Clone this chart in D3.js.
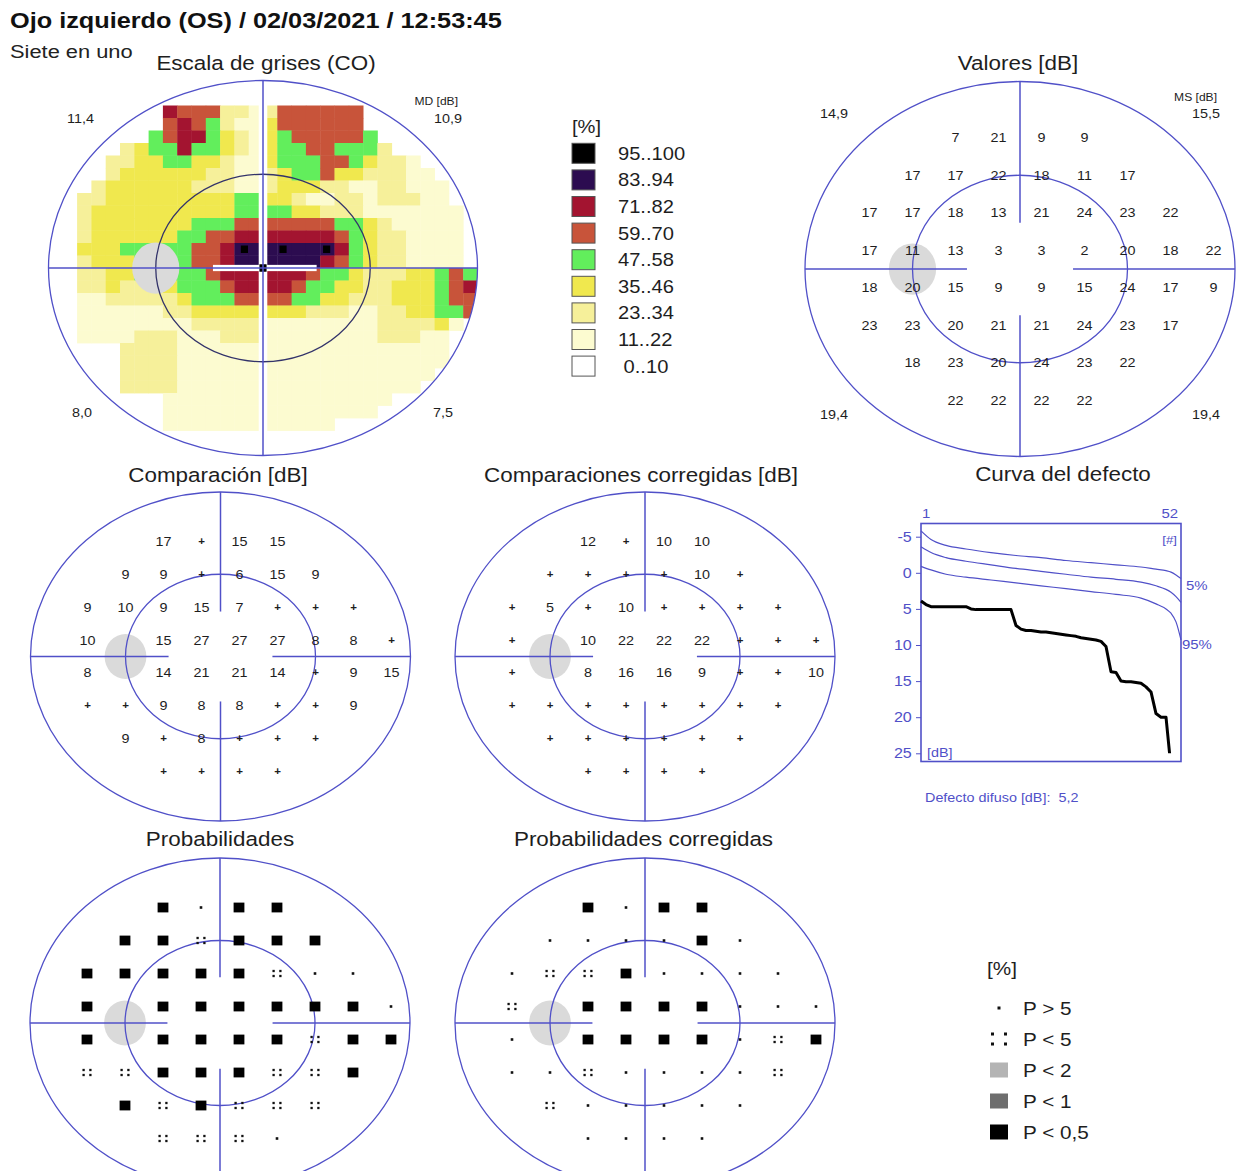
<!DOCTYPE html>
<html>
<head>
<meta charset="utf-8">
<title>Siete en uno</title>
<script src="https://cdn.jsdelivr.net/npm/d3@7"></script>
<style>
  body { margin: 0; background: #fff; }
  svg { display: block; font-family: "Liberation Sans", Arial, sans-serif; }
</style>
</head>
<body>
<script>
// test grid, degrees (left eye, 9 columns x 8 rows)
const xDeg = [-21, -15, -9, -3, 3, 9, 15, 21, 27];
const yDeg = [21, 15, 9, 3, -3, -9, -15, -21];
const _ = null;

const valores = [
  [_, _, 7, 21, 9, 9, _, _, _],
  [_, 17, 17, 22, 18, 11, 17, _, _],
  [17, 17, 18, 13, 21, 24, 23, 22, _],
  [17, 11, 13, 3, 3, 2, 20, 18, 22],
  [18, 20, 15, 9, 9, 15, 24, 17, 9],
  [23, 23, 20, 21, 21, 24, 23, 17, _],
  [_, 18, 23, 20, 24, 23, 22, _, _],
  [_, _, 22, 22, 22, 22, _, _, _]
];

const comparacion = [
  [_, _, 17, '+', 15, 15, _, _, _],
  [_, 9, 9, '+', 6, 15, 9, _, _],
  [9, 10, 9, 15, 7, '+', '+', '+', _],
  [10, _, 15, 27, 27, 27, 8, 8, '+'],
  [8, _, 14, 21, 21, 14, '+', 9, 15],
  ['+', '+', 9, 8, 8, '+', '+', 9, _],
  [_, 9, '+', 8, '+', '+', '+', _, _],
  [_, _, '+', '+', '+', '+', _, _, _]
];

const corregidas = [
  [_, _, 12, '+', 10, 10, _, _, _],
  [_, '+', '+', '+', '+', 10, '+', _, _],
  ['+', 5, '+', 10, '+', '+', '+', '+', _],
  ['+', _, 10, 22, 22, 22, '+', '+', '+'],
  ['+', _, 8, 16, 16, 9, '+', '+', 10],
  ['+', '+', '+', '+', '+', '+', '+', '+', _],
  [_, '+', '+', '+', '+', '+', '+', _, _],
  [_, _, '+', '+', '+', '+', _, _, _]
];

// . P>5   : P<5   g P<2   d P<1   b P<0,5
const probabilidades = [
  '  b.bb   ',
  ' bb:bbb  ',
  'bbbbb:.. ',
  'b bbbbbb.',
  'b bbbb:bb',
  '::bbb::b ',
  ' b:b:::  ',
  '  :::.   '
];
const probCorregidas = [
  '  b.bb   ',
  ' ....b.  ',
  '.::b.... ',
  ': bbbb...',
  '. bbbb.:b',
  '..:....: ',
  ' :.....  ',
  '  ....   '
];

// grey scale map, 2 degree cells from (-30,30), level 0..8
const grayMap = [
  '000000000000000000000000000000',
  '000000000000000000000000000000',
  '000000006555221255555500000000',
  '000000005654211355555500000000',
  '000000045664321345555540000000',
  '000002344644321344554442000000',
  '000022334433211344455432210000',
  '000023333332211234453322211000',
  '000233333322211233322112211100',
  '002233333333344332112212221100',
  '002333333333344443322211111110',
  '002333333344455555554432111110',
  '002333333445566666665432211110',
  '003334444455677777776432211110',
  '002333444455677777765432211110',
  '002233444445666666544322233454',
  '002232223444566665443322333456',
  '001122222344455554433222333455',
  '001111112233333333222112233445',
  '001111111122222111111112222310',
  '001111222111222111111112221100',
  '000002222111111111111111111100',
  '000002222111111111111111111100',
  '000002222111111111111111111000',
  '000002222111111111111111110000',
  '000000001111111111111111000000',
  '000000001111111111111110000000',
  '000000001111111111110000000000',
  '000000000000000000000000000000',
  '000000000000000000000000000000'
];
const blackSpots = [[-2.6, 3], [2.8, 3], [8.9, 3], [0, 0]];

const grayColors = ['#ffffff', '#fcfbd0', '#f6f09a', '#f0e84e', '#62ee5c',
                    '#c8543a', '#a31430', '#2c0c50', '#000000'];
const grayLevels = [8, 7, 6, 5, 4, 3, 2, 1, 0];
const grayLabels = ['95..100', '83..94', '71..82', '59..70', '47..58',
                    '35..46', '23..34', '11..22', '\u20080..10'];

const mdCorners = ['11,4', '10,9', '8,0', '7,5'];
const msCorners = ['14,9', '15,5', '19,4', '19,4'];

// defect curve (Bebie), ranks 1..52
const defecto = [3.9, 4.4, 4.7, 4.7, 4.7, 4.7, 4.7, 4.7, 4.7, 4.7,
                 5.0, 5.1, 5.1, 5.1, 5.1, 5.1, 5.1, 5.1, 5.1,
                 7.3, 7.8, 8.0, 8.0, 8.1, 8.2, 8.2, 8.3, 8.4, 8.5, 8.6,
                 8.7, 8.8, 9.0, 9.1, 9.2, 9.3, 9.5,
                 10.2, 13.7, 13.8, 15.0, 15.1, 15.1, 15.2, 15.3, 15.8,
                 16.5, 19.5, 20.0, 20.0, 27, 27];
const refRanks = [1, 3, 6, 10, 15, 20, 25, 30, 35, 40, 45, 48, 50, 51, 52, 53];
const refTop = [-5.8, -4.6, -3.8, -3.3, -2.8, -2.4, -2.1, -1.7, -1.4, -1.1, -0.8, -0.5, -0.3, -0.1, 0.3, 0.8];
const ref5 = [-3.6, -2.8, -2.1, -1.6, -1.1, -0.6, -0.2, 0.2, 0.6, 0.9, 1.3, 1.8, 2.3, 2.7, 3.3, 4.1];
const ref95 = [-0.9, -0.4, 0.2, 0.6, 1.0, 1.4, 1.8, 2.2, 2.6, 3.0, 3.5, 4.3, 5.0, 5.6, 6.8, 9.3];
const dbTicks = [-5, 0, 5, 10, 15, 20, 25];

const probCodes = ['.', ':', 'g', 'd', 'b'];
const probLabels = ['P > 5', 'P < 5', 'P < 2', 'P < 1', 'P < 0,5'];

const SX = 1.15;            // the printout is stretched horizontally
const blue = '#5050c8';
const ink = '#1e1e1e';

const svg = d3.select('body').append('svg')
    .attr('width', 1240)
    .attr('height', 1171);

function txt(g, x, y, s, size, opt = {}) {
  return g.append('text')
      .attr('transform', `translate(${x},${y}) scale(${SX},1)`)
      .attr('text-anchor', opt.anchor || 'start')
      .attr('font-size', size)
      .attr('font-weight', opt.weight || 'normal')
      .attr('fill', opt.fill || ink)
      .style('white-space', 'pre')
      .text(s);
}

function field(cx, cy, rx, ry) {
  return {
    cx, cy, rx, ry,
    x: d3.scaleLinear().domain([-30, 30]).range([cx - rx, cx + rx]),
    y: d3.scaleLinear().domain([-30, 30]).range([cy + ry, cy - ry])
  };
}

const fGris = field(263, 268, 214.5, 187.5);
const fVal = field(1020, 269, 215, 187.5);
const fComp = field(220.5, 656.5, 190, 164.5);
const fCorr = field(645, 656.5, 190, 164.5);
const fProb = field(220, 1023, 190, 165);
const fProbC = field(645, 1023, 190, 165);

function blindSpot(g, f) {
  g.append('ellipse')
      .attr('cx', f.x(-15)).attr('cy', f.y(0))
      .attr('rx', f.x(3.3) - f.x(0)).attr('ry', f.y(0) - f.y(4.1))
      .attr('fill', '#dadada');
}

function frame(g, f, gap, innerColor) {
  g.append('ellipse')
      .attr('cx', f.cx).attr('cy', f.cy).attr('rx', f.rx).attr('ry', f.ry)
      .attr('fill', 'none').attr('stroke', blue).attr('stroke-width', 1.3);
  g.append('ellipse')
      .attr('cx', f.cx).attr('cy', f.cy).attr('rx', f.x(15) - f.cx).attr('ry', f.cy - f.y(15))
      .attr('fill', 'none').attr('stroke', innerColor || blue).attr('stroke-width', 1.3);
  const segs = gap
    ? [[-30, 0, -gap, 0], [gap, 0, 30, 0], [0, 30, 0, gap], [0, -gap, 0, -30]]
    : [[-30, 0, 30, 0], [0, 30, 0, -30]];
  g.selectAll('line.cross').data(segs).enter().append('line')
      .attr('class', 'cross')
      .attr('x1', d => f.x(d[0])).attr('y1', d => f.y(d[1]))
      .attr('x2', d => f.x(d[2])).attr('y2', d => f.y(d[3]))
      .attr('stroke', blue).attr('stroke-width', 1.5);
}

function cells(grid, isString) {
  const out = [];
  grid.forEach((row, r) => {
    const arr = isString ? row.split('') : row;
    arr.forEach((v, c) => {
      if (v === null || v === ' ') return;
      out.push({ r, c, v });
    });
  });
  return out;
}

function numbers(g, f, grid) {
  cells(grid).forEach(d => {
    const plus = d.v === '+';
    txt(g, f.x(xDeg[d.c]), f.y(yDeg[d.r]) + (plus ? 3.5 : 4.5), String(d.v),
        plus ? 10 : 12.5, { anchor: 'middle', weight: plus ? 'bold' : 'normal' });
  });
}

function probMark(g, code, x, y, big) {
  if (code === '.') {
    const s = big ? 3 : 2.6;
    g.append('rect').attr('x', x - s / 2).attr('y', y - s / 2)
        .attr('width', s).attr('height', s).attr('fill', '#111');
  } else if (code === ':') {
    const s = big ? 3 : 2.3, ox = big ? 6.5 : 3.4, oy = big ? 5 : 2.5;
    [[-1, -1], [1, -1], [-1, 1], [1, 1]].forEach(o => {
      g.append('rect').attr('x', x + o[0] * ox - s / 2).attr('y', y + o[1] * oy - s / 2)
          .attr('width', s).attr('height', s).attr('fill', '#111');
    });
  } else {
    const fill = { g: '#b4b4b4', d: '#6e6e6e', b: '#000' }[code];
    const w = (big ? 18 : 10.8), h = (big ? 15 : 9.8);
    g.append('rect').attr('x', x - w / 2).attr('y', y - h / 2)
        .attr('width', w).attr('height', h).attr('fill', fill);
  }
}

function probPanel(g, f, grid) {
  cells(grid, true).forEach(d => probMark(g, d.v, f.x(xDeg[d.c]), f.y(yDeg[d.r]), false));
}

// ---------- header ----------
txt(svg, 10, 28, 'Ojo izquierdo (OS) / 02/03/2021 / 12:53:45', 22, { weight: 'bold', fill: '#111' });
txt(svg, 10, 58, 'Siete en uno', 19, { fill: '#222' });

// ---------- grey scale ----------
const gG = svg.append('g');
txt(gG, 266, 70, 'Escala de grises (CO)', 19.5, { anchor: 'middle' });
svg.append('clipPath').attr('id', 'clipGris').append('ellipse')
    .attr('cx', fGris.cx).attr('cy', fGris.cy).attr('rx', fGris.rx).attr('ry', fGris.ry);
const mapG = gG.append('g').attr('clip-path', 'url(#clipGris)');
mapG.selectAll('rect.cell')
  .data(cells(grayMap, true).filter(d => d.v !== '0'))
  .enter().append('rect')
    .attr('class', 'cell')
    .attr('x', d => fGris.x(-30 + 2 * d.c))
    .attr('y', d => fGris.y(30 - 2 * d.r))
    .attr('width', fGris.x(2) - fGris.x(0) + 0.4)
    .attr('height', fGris.y(0) - fGris.y(2) + 0.4)
    .attr('fill', d => grayColors[+d.v]);
// white gaps along the meridians
mapG.append('rect')
    .attr('x', fGris.x(-0.6)).attr('y', fGris.y(30))
    .attr('width', fGris.x(0.6) - fGris.x(-0.6)).attr('height', fGris.y(-30) - fGris.y(30))
    .attr('fill', '#fff');
mapG.append('rect')
    .attr('x', fGris.x(-7)).attr('y', fGris.y(0.5))
    .attr('width', fGris.x(7.5) - fGris.x(-7)).attr('height', fGris.y(-0.5) - fGris.y(0.5))
    .attr('fill', '#fff');
mapG.selectAll('rect.spot').data(blackSpots).enter().append('rect')
    .attr('class', 'spot')
    .attr('x', d => fGris.x(d[0] - 0.5)).attr('y', d => fGris.y(d[1] + 0.6))
    .attr('width', fGris.x(1) - fGris.x(0)).attr('height', fGris.y(0) - fGris.y(1.2))
    .attr('fill', '#000');
blindSpot(gG, fGris);
frame(gG, fGris, 0, '#33336a');
txt(gG, 67, 123, mdCorners[0], 12.5);
txt(gG, 458, 105, 'MD [dB]', 10.5, { anchor: 'end' });
txt(gG, 462, 123, mdCorners[1], 12.5, { anchor: 'end' });
txt(gG, 72, 417, mdCorners[2], 12.5);
txt(gG, 453, 417, mdCorners[3], 12.5, { anchor: 'end' });

// legend of the grey scale
const lg = svg.append('g');
txt(lg, 572, 133, '[%]', 17.5);
grayLevels.forEach((lev, i) => {
  const cy = 153.3 + i * 26.6;
  lg.append('rect').attr('x', 572).attr('y', cy - 10).attr('width', 23).attr('height', 20)
      .attr('fill', grayColors[lev]).attr('stroke', '#555').attr('stroke-width', 1);
  txt(lg, 618, cy + 6.5, grayLabels[i], 17.5);
});

// ---------- values ----------
const gV = svg.append('g');
txt(gV, 1018, 70, 'Valores [dB]', 19.5, { anchor: 'middle' });
blindSpot(gV, fVal);
frame(gV, fVal, 7.4);
numbers(gV, fVal, valores);
txt(gV, 820, 118, msCorners[0], 12.5);
txt(gV, 1217, 101, 'MS [dB]', 10.5, { anchor: 'end' });
txt(gV, 1220, 118, msCorners[1], 12.5, { anchor: 'end' });
txt(gV, 820, 419, msCorners[2], 12.5);
txt(gV, 1220, 419, msCorners[3], 12.5, { anchor: 'end' });

// ---------- comparisons ----------
const gC = svg.append('g');
txt(gC, 218, 481.5, 'Comparación [dB]', 19.5, { anchor: 'middle' });
blindSpot(gC, fComp);
frame(gC, fComp, 8.2);
numbers(gC, fComp, comparacion);

const gK = svg.append('g');
txt(gK, 641, 481.5, 'Comparaciones corregidas [dB]', 19.5, { anchor: 'middle' });
blindSpot(gK, fCorr);
frame(gK, fCorr, 8.2);
numbers(gK, fCorr, corregidas);

// ---------- defect curve ----------
const gD = svg.append('g');
txt(gD, 1063, 480.5, 'Curva del defecto', 19.5, { anchor: 'middle' });
const dx = d3.scaleLinear().domain([1, 53]).range([921, 1181]);
const dy = d3.scaleLinear().domain([-5, 25]).range([536.7, 753.3]);
gD.append('rect')
    .attr('x', dx(1)).attr('y', 523.5)
    .attr('width', dx(53) - dx(1)).attr('height', 238)
    .attr('fill', 'none').attr('stroke', blue).attr('stroke-width', 1.6);
const yAxis = d3.axisLeft(dy).tickValues(dbTicks).tickFormat(d => String(d))
    .tickSize(5).tickPadding(3);
const ag = gD.append('g').attr('transform', `translate(${dx(1)},0)`).call(yAxis);
ag.attr('font-family', null).attr('font-size', 14);
ag.select('.domain').remove();
ag.selectAll('line').attr('stroke', blue);
ag.selectAll('text').attr('fill', blue).attr('transform', `scale(${SX},1)`);

const refLine = d3.line()
    .x((d, i) => dx(refRanks[i]))
    .y(d => dy(d))
    .curve(d3.curveMonotoneX);
[refTop, ref5, ref95].forEach(ser => {
  gD.append('path').attr('d', refLine(ser))
      .attr('fill', 'none').attr('stroke', blue).attr('stroke-width', 1.2);
});
svg.append('clipPath').attr('id', 'clipCurve').append('rect')
    .attr('x', dx(1) - 2).attr('y', 520).attr('width', dx(53) - dx(1) + 4).attr('height', dy(25) - 520);
gD.append('path')
    .attr('d', d3.line().x((d, i) => dx(i + 1)).y(d => dy(d))(defecto))
    .attr('clip-path', 'url(#clipCurve)')
    .attr('fill', 'none').attr('stroke', '#000').attr('stroke-width', 3)
    .attr('stroke-linejoin', 'round');
txt(gD, dx(1) + 1, 518, '1', 13, { fill: blue });
txt(gD, dx(53) - 3, 518, '52', 13, { anchor: 'end', fill: blue });
txt(gD, dx(53) - 4, 544, '[#]', 11.5, { anchor: 'end', fill: blue });
txt(gD, dx(1) + 6, 757, '[dB]', 12.5, { fill: blue });
txt(gD, 1186, 590, '5%', 13, { fill: blue });
txt(gD, 1182, 649, '95%', 13, { fill: blue });
txt(gD, 925, 802, 'Defecto difuso [dB]:  5,2', 12.5, { fill: blue });

// ---------- probabilities ----------
const gP = svg.append('g');
txt(gP, 220, 845.5, 'Probabilidades', 19.5, { anchor: 'middle' });
blindSpot(gP, fProb);
frame(gP, fProb, 8.3);
probPanel(gP, fProb, probabilidades);

const gQ = svg.append('g');
txt(gQ, 643.5, 845.5, 'Probabilidades corregidas', 19.5, { anchor: 'middle' });
blindSpot(gQ, fProbC);
frame(gQ, fProbC, 8.3);
probPanel(gQ, fProbC, probCorregidas);

// legend of the probabilities
const pl = svg.append('g');
txt(pl, 987, 975, '[%]', 18);
probCodes.forEach((code, i) => {
  const cy = 1008 + i * 31;
  probMark(pl, code, 999, cy, true);
  txt(pl, 1023, cy + 6.5, probLabels[i], 18);
});
</script>
</body>
</html>
